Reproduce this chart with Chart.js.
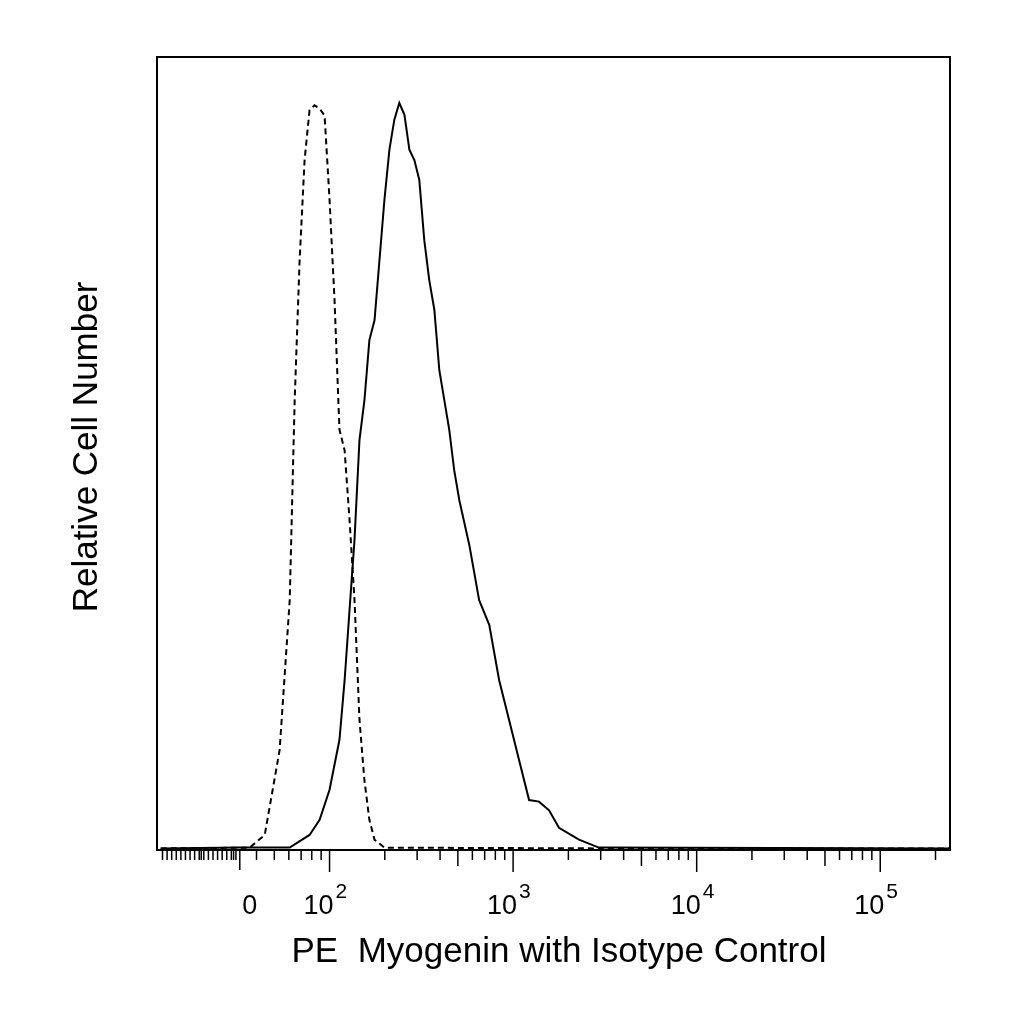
<!DOCTYPE html>
<html><head><meta charset="utf-8">
<script src="https://cdn.jsdelivr.net/npm/chart.js@4"></script>
<style>html,body{margin:0;background:#fff}#c{width:1024px;height:1024px}</style>
</head><body><canvas id="c" width="1024" height="1024"></canvas>
<script>
// x in display decades (2 = 10^2), y = % of max count
const isoX=[1.08,1.565,1.647,1.728,1.783,1.810,1.837,1.864,1.891,1.918,1.946,1.973,2.0,2.027,2.054,2.082,2.109,2.136,2.163,2.190,2.217,2.245,2.299,3.467,5.38];
const isoY=[0.2,0.3,1.9,12.6,31.5,56.7,74.4,87.0,93.3,93.9,93.5,92.6,82.0,69.4,53.0,50.4,41.6,31.5,16.4,8.8,3.8,1.3,0.3,0.2,0.2];
const myoX=[1.08,1.511,1.783,1.891,1.946,2.0,2.054,2.082,2.109,2.136,2.163,2.190,2.217,2.245,2.272,2.299,2.326,2.353,2.380,2.408,2.435,2.462,2.489,2.516,2.543,2.571,2.598,2.652,2.679,2.707,2.761,2.815,2.870,2.924,2.978,3.033,3.087,3.141,3.196,3.250,3.359,3.467,5.38];
const myoY=[0.2,0.3,0.3,1.9,3.8,7.6,13.9,21.4,30.3,39.1,51.7,56.7,64.3,66.8,74.4,82.0,88.3,92.1,94.2,92.7,88.3,87.0,84.5,76.9,71.9,68.1,60.5,53.0,47.9,44.1,38.5,31.5,28.4,21.4,16.4,11.3,6.3,6.1,5.0,2.8,1.3,0.3,0.2];
const majorTicks=[2,3,4,5];
const majorLabels=["10","10","10","10"];
const exponents=["2","3","4","5"];
const zeroPos=1.511;
const xTitle="PE  Myogenin with Isotype Control";
const yTitle="Relative Cell Number";
const pts=(xs,ys)=>xs.map((x,i)=>({x,y:ys[i]}));
const axisPlugin={id:'ax',afterDraw(ch){
  const c=ch.ctx,a=ch.chartArea,xs=ch.scales.x;
  c.save();c.strokeStyle='#000';c.lineWidth=2;c.setLineDash([]);
  c.strokeRect(a.left,a.top,a.right-a.left,a.bottom-a.top);
  c.lineWidth=1.5;
  const tick=(v,len)=>{const p=xs.getPixelForValue(v);if(p<a.left+2||p>a.right)return;c.beginPath();c.moveTo(p,a.bottom);c.lineTo(p,a.bottom+len);c.stroke();};
  for(let v=1.09;v<1.5;v+=0.025)tick(v,10);
  tick(zeroPos,20);
  for(let k=2;k<=9;k++)tick(1+Math.log10(k),10);
  for(const d of majorTicks){tick(d,22);for(let k=2;k<=9;k++)tick(d+Math.log10(k),k===5?16:10);}
  c.fillStyle='#000';c.font='27px "Liberation Sans"';c.textBaseline='alphabetic';c.textAlign='center';
  c.fillText('0',xs.getPixelForValue(zeroPos)+10,914);
  majorTicks.forEach((d,i)=>{const p=xs.getPixelForValue(d);c.font='27px "Liberation Sans"';c.textAlign='right';c.fillText(majorLabels[i],p+4,914);c.font='21px "Liberation Sans"';c.textAlign='left';c.fillText(exponents[i],p+6,898);});
  c.font='35px "Liberation Sans"';c.textAlign='center';c.fillText(xTitle,559,962);
  c.translate(97,447);c.rotate(-Math.PI/2);c.fillText(yTitle,0,0);
  c.restore();}};
new Chart(document.getElementById('c'),{type:'line',
 data:{datasets:[
  {data:pts(isoX,isoY),borderColor:'#000',borderWidth:2,borderDash:[6,4],pointRadius:0,tension:0},
  {data:pts(myoX,myoY),borderColor:'#000',borderWidth:2,pointRadius:0,tension:0}]},
 options:{responsive:false,animation:false,devicePixelRatio:1,
  layout:{padding:{left:157,right:74,top:57,bottom:174}},
  plugins:{legend:{display:false},tooltip:{enabled:false}},
  scales:{x:{type:'linear',min:1.06,max:5.38,display:false},y:{min:0,max:100,display:false}}},
 plugins:[axisPlugin]});
</script></body></html>
